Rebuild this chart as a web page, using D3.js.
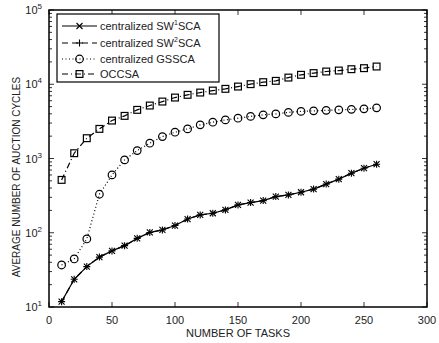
<!DOCTYPE html>
<html>
<head>
<meta charset="utf-8">
<script src="https://cdn.jsdelivr.net/npm/d3@7"></script>
<style>
  body { margin: 0; background: #fff; }
  svg { display: block; font-family: "Liberation Sans", Arial, sans-serif; }
</style>
</head>
<body>
<div id="chart"></div>
<script>
"use strict";

// number of tasks
const tasks = [10, 20, 30, 40, 50, 60, 70, 80, 90, 100, 110, 120, 130,
  140, 150, 160, 170, 180, 190, 200, 210, 220, 230, 240, 250, 260];

const sw1sca = [11.8, 23.6, 35, 47, 57, 67, 84, 101, 109, 125, 153, 174, 183,
  203, 237, 255, 271, 307, 323, 351, 387, 452, 527, 634, 740, 838];
// SW2 lies on top of SW1 in the figure
const sw2sca = sw1sca.slice();
const gssca = [36.8, 44.4, 82.5, 330, 601, 957, 1277, 1607, 1973, 2260, 2505, 2838, 3084,
  3311, 3490, 3690, 3870, 3990, 4180, 4310, 4380, 4450, 4520, 4590, 4660, 4810];
const occsa = [515, 1178, 1877, 2505, 3243, 3750, 4519, 5167, 5846, 6620, 7200, 7730, 8220,
  8670, 9310, 10030, 10670, 11110, 12300, 13400, 14130, 14840, 15300, 15950, 16470, 17330];

const xTicks = [0, 50, 100, 150, 200, 250, 300];
const yExponents = [1, 2, 3, 4, 5];

const seriesNames = ["centralized SW\u00b9SCA", "centralized SW\u00b2SCA", "centralized GSSCA", "OCCSA"];

const width = 439, height = 343;
const margin = { left: 49, right: 12, top: 10, bottom: 36 };

const svg = d3.select("#chart").append("svg")
  .attr("width", width)
  .attr("height", height);

const x = d3.scaleLinear().domain([0, 300]).range([margin.left, width - margin.right]);
const y = d3.scaleLog().domain([10, 100000]).range([height - margin.bottom, margin.top]);

const x0 = x.range()[0], x1 = x.range()[1];
const y0 = y.range()[0], y1 = y.range()[1];

// minor log ticks on both sides
const minor = [];
for (let e = 1; e < 5; e++) {
  for (let m = 2; m <= 9; m++) minor.push(m * Math.pow(10, e));
}
const ticksG = svg.append("g").attr("stroke", "#000").attr("stroke-width", 0.8);
minor.forEach(v => {
  ticksG.append("line").attr("x1", x0).attr("x2", x0 + 3).attr("y1", y(v)).attr("y2", y(v));
  ticksG.append("line").attr("x1", x1).attr("x2", x1 - 3).attr("y1", y(v)).attr("y2", y(v));
});
yExponents.forEach(e => {
  const v = Math.pow(10, e);
  ticksG.append("line").attr("x1", x0).attr("x2", x0 + 5).attr("y1", y(v)).attr("y2", y(v));
  ticksG.append("line").attr("x1", x1).attr("x2", x1 - 5).attr("y1", y(v)).attr("y2", y(v));
});
xTicks.forEach(v => {
  ticksG.append("line").attr("x1", x(v)).attr("x2", x(v)).attr("y1", y0).attr("y2", y0 - 5);
  ticksG.append("line").attr("x1", x(v)).attr("x2", x(v)).attr("y1", y1).attr("y2", y1 + 5);
});

// x tick labels
svg.append("g").selectAll("text").data(xTicks).join("text")
  .attr("x", d => x(d))
  .attr("y", y0 + 17)
  .attr("text-anchor", "middle")
  .attr("font-size", 11)
  .attr("fill", "#222")
  .text(d => d);

// y tick labels: 10 with superscript
const yl = svg.append("g").attr("fill", "#222");
yExponents.forEach(e => {
  const t = yl.append("text")
    .attr("x", x0 - 7)
    .attr("y", y(Math.pow(10, e)) + 4)
    .attr("text-anchor", "end")
    .attr("font-size", 11);
  t.append("tspan").text("10");
  t.append("tspan").attr("dy", -5).attr("font-size", 8).text(e);
});

svg.append("text")
  .attr("x", (x0 + x1) / 2)
  .attr("y", height - 6)
  .attr("text-anchor", "middle")
  .attr("font-size", 11)
  .attr("fill", "#222")
  .text("NUMBER OF TASKS");

svg.append("text")
  .attr("transform", `translate(20,177) rotate(-90)`)
  .attr("text-anchor", "middle")
  .attr("font-size", 10)
  .attr("fill", "#222")
  .text("AVERAGE NUMBER OF AUCTION CYCLES");

// markers
function drawMarker(g, kind, cx, cy) {
  if (kind === "x") {
    const s = 3;
    g.append("path").attr("d", `M${cx - s},${cy - s}L${cx + s},${cy + s}M${cx - s},${cy + s}L${cx + s},${cy - s}`)
      .attr("stroke", "#000").attr("stroke-width", 1.1).attr("fill", "none");
  } else if (kind === "+") {
    const s = 3.5;
    g.append("path").attr("d", `M${cx - s},${cy}L${cx + s},${cy}M${cx},${cy - s}L${cx},${cy + s}`)
      .attr("stroke", "#000").attr("stroke-width", 1.1).attr("fill", "none");
  } else if (kind === "o") {
    g.append("circle").attr("cx", cx).attr("cy", cy).attr("r", 3.8)
      .attr("stroke", "#000").attr("stroke-width", 1.2).attr("fill", "none");
  } else if (kind === "s") {
    const s = 3.4;
    g.append("rect").attr("x", cx - s).attr("y", cy - s).attr("width", 2 * s).attr("height", 2 * s)
      .attr("stroke", "#000").attr("stroke-width", 1.2).attr("fill", "none");
  }
}

const series = [
  { name: seriesNames[0], values: sw1sca, dash: null, marker: "x" },
  { name: seriesNames[1], values: sw2sca, dash: "6,4", marker: "+" },
  { name: seriesNames[2], values: gssca, dash: "1,2.5", marker: "o" },
  { name: seriesNames[3], values: occsa, dash: "6,3,1,3", marker: "s" }
];

const line = d3.line().x(d => x(d[0])).y(d => y(d[1]));

series.forEach(s => {
  const pts = tasks.map((t, i) => [t, s.values[i]]);
  const g = svg.append("g");
  g.append("path")
    .attr("d", line(pts))
    .attr("fill", "none")
    .attr("stroke", "#000")
    .attr("stroke-width", 1.2)
    .attr("stroke-dasharray", s.dash);
  pts.forEach(p => drawMarker(g, s.marker, x(p[0]), y(p[1])));
});

// axes box
svg.append("rect")
  .attr("x", x0).attr("y", y1)
  .attr("width", x1 - x0).attr("height", y0 - y1)
  .attr("fill", "none").attr("stroke", "#000").attr("stroke-width", 1.5);

// legend
const lg = svg.append("g");
lg.append("rect")
  .attr("x", 57).attr("y", 14).attr("width", 162).attr("height", 68)
  .attr("fill", "#fff").attr("stroke", "#000").attr("stroke-width", 1.2);
const rowY = [26, 43, 59, 74];
series.forEach((s, i) => {
  const ry = rowY[i];
  lg.append("line")
    .attr("x1", 62).attr("x2", 97).attr("y1", ry).attr("y2", ry)
    .attr("stroke", "#000").attr("stroke-width", 1.2)
    .attr("stroke-dasharray", s.dash);
  drawMarker(lg, s.marker, 79.5, ry);
  const t = lg.append("text")
    .attr("x", 100).attr("y", ry + 4)
    .attr("font-size", 11)
    .attr("fill", "#222");
  if (i < 2) {
    t.append("tspan").text("centralized SW");
    t.append("tspan").attr("dy", -5).attr("font-size", 7).text(i + 1);
    t.append("tspan").attr("dy", 5).text("SCA");
  } else {
    t.text(s.name);
  }
});
</script>
</body>
</html>
